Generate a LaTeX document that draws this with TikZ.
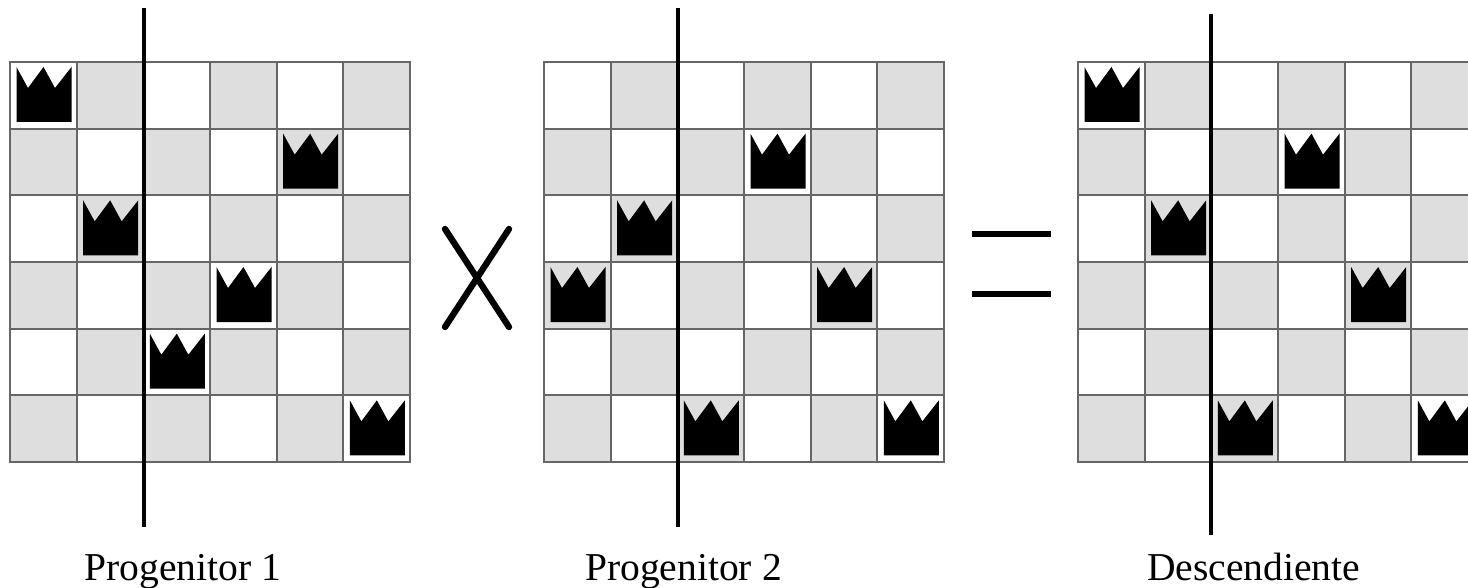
\documentclass[tikz,border=0pt]{standalone}
\usepackage{fontspec}
\setmainfont{Liberation Serif}

\begin{document}
\begin{tikzpicture}
  [
    x=0.02cm,
    y=-0.02cm,
    square/.style  = {draw=black!60, line width=1pt},
    dark/.style    = {square, fill=boardgray},
    light/.style   = {square, fill=white},
    crown/.style   = {fill=black},
    cut/.style     = {draw=black, line width=2.2pt},
    symbol/.style  = {draw=black, line width=3.6pt, line cap=round},
    caption/.style = {anchor=base, font=\fontsize{22.5}{25}\selectfont},
  ]
\definecolor{boardgray}{HTML}{DEDEDE}

%Frame of the reference, the third board runs past its right edge
\clip (0,0) rectangle (1468,588);

%Size of a square and top edge of the boards
\def \cell{66.67}
\def \ytop{62}

%Drawing the three boards, left edge / queens as column:row
\foreach [count=\i] \xleft/\queens in
  {10/{0/0,4/1,1/2,3/3,2/4,5/5},
   544/{3/1,1/2,0/3,4/3,2/5,5/5},
   1078/{0/0,3/1,1/2,4/3,2/5,5/5}}
{
\begin{scope}[shift={(\xleft,\ytop)}]
\foreach \c in {0,...,5}
{
\foreach \r in {0,...,5}
{
\pgfmathtruncatemacro{\odd}{mod(\c+\r,2)}
\ifnum \odd=1
\draw[dark] (\c*\cell,\r*\cell) rectangle +(\cell,\cell);
\else
\draw[light] (\c*\cell,\r*\cell) rectangle +(\cell,\cell);
\fi
}
}
\foreach \c/\r in \queens
{
\fill[crown,shift={(\c*\cell,\r*\cell)}] (6.5,5) -- (18,26) -- (33.5,5) -- (45,26) -- (61.5,5)
  -- (61.5,60) -- (6.5,60) -- cycle;
}
\end{scope}
}

%Crossing points
\draw[cut] (144,8) -- (144,527);
\draw[cut] (678,8) -- (678,527);
\draw[cut] (1211,14) -- (1211,535);

%Signs between the boards
\draw[symbol] (445,229) -- (509,327);
\draw[symbol] (509,229) -- (445,327);
\draw[symbol, line width=3pt, line cap=butt] (972,234) -- (1051,234);
\draw[symbol, line width=3pt, line cap=butt] (972,294) -- (1051,294);

%Names of the boards
\node[caption] (parent1) at (183,580) {Progenitor 1};
\node[caption] (parent2) at (683.5,580) {Progenitor 2};
\node[caption] (child) at (1253.5,580) {Descendiente};

\end{tikzpicture}
\end{document}
